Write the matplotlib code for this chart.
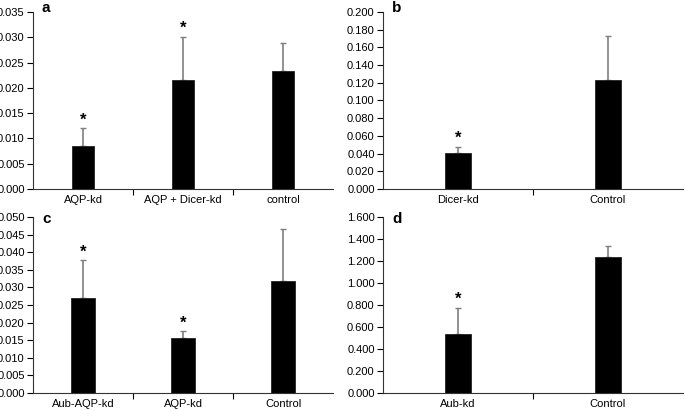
import matplotlib
matplotlib.use("Agg")
import matplotlib.pyplot as plt
import numpy as np

plt.rcParams['font.family'] = ['Liberation Sans', 'DejaVu Sans']

# Panel a
a_cats = ["AQP-kd", "AQP + Dicer-kd", "control"]
a_vals = [0.0086, 0.0215, 0.0234]
a_err = [0.0035, 0.0086, 0.0055]
a_star = [True, True, False]
a_ticks = [0.000, 0.005, 0.010, 0.015, 0.020, 0.025, 0.030, 0.035]

# Panel b
b_cats = ["Dicer-kd", "Control"]
b_vals = [0.041, 0.123]
b_err = [0.007, 0.050]
b_star = [True, False]
b_ticks = [0.000, 0.020, 0.040, 0.060, 0.080, 0.100, 0.120, 0.140, 0.160, 0.180, 0.200]

# Panel c
c_cats = ["Aub-AQP-kd", "AQP-kd", "Control"]
c_vals = [0.0270, 0.0155, 0.0317]
c_err = [0.0107, 0.0021, 0.0148]
c_star = [True, True, False]
c_ticks = [0.000, 0.005, 0.010, 0.015, 0.020, 0.025, 0.030, 0.035, 0.040, 0.045, 0.050]

# Panel d
d_cats = ["Aub-kd", "Control"]
d_vals = [0.535, 1.240]
d_err = [0.240, 0.095]
d_star = [True, False]
d_ticks = [0.000, 0.200, 0.400, 0.600, 0.800, 1.000, 1.200, 1.400, 1.600]

fig = plt.figure(figsize=(6.85, 4.11), dpi=100)

W = 300 / 685
H = 177 / 411
positions = {
    'a': [33 / 685, (411 - 189) / 411, W, H],
    'b': [383 / 685, (411 - 189) / 411, W, H],
    'c': [33 / 685, (411 - 393) / 411, W, 176 / 411],
    'd': [383 / 685, (411 - 393) / 411, W, 176 / 411],
}

def panel(label, cats, vals, errs, stars, ticks, width_px, label_y):
    ax = fig.add_axes(positions[label])
    n = len(cats)
    x = np.arange(n) + 0.5
    cat_px = 300 / n
    bw = width_px / cat_px
    ax.bar(x, vals, width=bw, color='black', edgecolor='#222222', linewidth=0.6, zorder=2)
    ax.errorbar(x, vals, yerr=[np.zeros(n), errs], fmt='none', ecolor='#7f7f7f',
                elinewidth=1.2, capsize=2.5, capthick=1.0, zorder=1)
    top = ticks[-1]
    for xi, v, e, s in zip(x, vals, errs, stars):
        if s:
            ax.text(xi, v + e + top * 0.003, '*', ha='center', va='bottom',
                    fontsize=12, fontweight='bold')
    ax.set_xlim(0, n)
    ax.set_ylim(0, top)
    ax.set_yticks(ticks)
    ax.set_yticklabels([f"{t:.3f}" for t in ticks], fontsize=8)
    ax.set_xticks(np.arange(1, n))
    ax.set_xticklabels([])
    ax.set_xticks(x, minor=True)
    ax.set_xticklabels(cats, minor=True, fontsize=8)
    ax.tick_params(axis='x', which='minor', length=0, pad=4)
    ax.tick_params(axis='x', which='major', length=4, direction='out', width=0.8)
    ax.tick_params(axis='y', length=4, direction='out', width=0.8, pad=2)
    for sp in ['top', 'right']:
        ax.spines[sp].set_visible(False)
    for sp in ['left', 'bottom']:
        ax.spines[sp].set_linewidth(0.8)
        ax.spines[sp].set_color('#333333')
    ax.text(0.03, label_y, label, transform=ax.transAxes, fontsize=11,
            fontweight='bold', ha='left', va='center')
    return ax

panel('a', a_cats, a_vals, a_err, a_star, a_ticks, 22, 1.02)
panel('b', b_cats, b_vals, b_err, b_star, b_ticks, 26, 1.02)
panel('c', c_cats, c_vals, c_err, c_star, c_ticks, 24, 0.99)
panel('d', d_cats, d_vals, d_err, d_star, d_ticks, 26, 0.99)

fig.savefig('out.png', dpi=100)
